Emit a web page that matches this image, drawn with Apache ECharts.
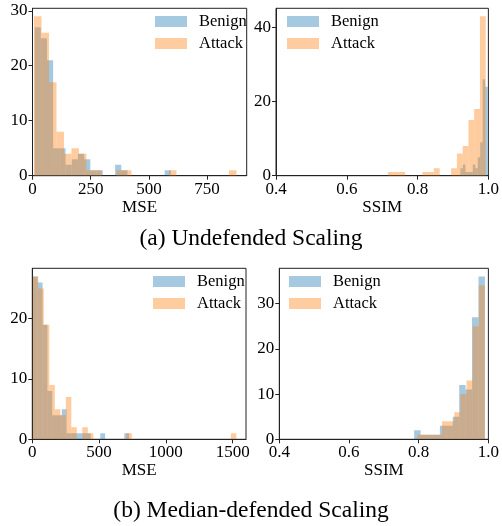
<!DOCTYPE html>
<html><head><meta charset="utf-8">
<script src="https://cdn.jsdelivr.net/npm/echarts@6/dist/echarts.min.js"></script>
<style>html,body{margin:0;padding:0;background:#fff}#c{width:502px;height:526px}</style>
</head><body><div id="c"></div>
<script>
// ---------- Data (histogram bin start, bin width, counts) ----------
// (a) Undefended Scaling - MSE
const aMseBenignStart = 9, aMseBenignWidth = 26.6;
const aMseBenignCounts = [27,25,21,5,5,2,3,4,3,1,1,0,0,2,1,0,0,0,0,0,0,1];
const aMseAttackStart = 6.4, aMseAttackWidth = 32.2;
const aMseAttackCounts = [29,26,17,8,4,5,4,1,1,0,0,1,1,0,0,0,0,0,1,0,0,0,0,0,0,0,1];
// (a) Undefended Scaling - SSIM
const aSsimBenignStart = 0.921, aSsimBenignWidth = 0.007;
const aSsimBenignCounts = [2,3,1,1,1,3,2,5,9,26,24];
const aSsimAttackStart = 0.716, aSsimAttackWidth = 0.01626;
const aSsimAttackCounts = [1,1,1,0,0,0,1,1,2,0,0,2,6,8,15,18,43];
// (b) Median-defended Scaling - MSE
const bMseBenignStart = 5, bMseBenignWidth = 36;
const bMseBenignCounts = [27,26,19,8,4,4,5,1,1,1,1,1,0,0,1,0,0,0,0,1];
const bMseAttackStart = 3.7, bMseAttackWidth = 41.2;
const bMseAttackCounts = [27,25,19,9,5,4,7,2,0,2,1,0,0,0,0,0,0,1,0,0,0,0,0,0,0,0,0,0,0,0,0,0,0,0,0,0,1];
// (b) Median-defended Scaling - SSIM
const bSsimBenignStart = 0.787, bSsimBenignWidth = 0.01846;
const bSsimBenignCounts = [2,1,1,1,3,3,5,12,11,27,36];
const bSsimAttackStart = 0.7963, bSsimAttackWidth = 0.01762;
const bSsimAttackCounts = [1,1,1,1,4,4,6,10,13,25,34];

// Tick labels
const mseTicksA = [0,250,500,750];
const mseTicksB = [0,500,1000,1500];
const ssimTicks = [0.4,0.6,0.8,1.0];
const yTicksAMse = [0,10,20,30];
const yTicksASsim = [0,20,40];
const yTicksBMse = [0,10,20];
const yTicksBSsim = [0,10,20,30];

const seriesNames = ['Benign','Attack'];
const captions = ['(a) Undefended Scaling','(b) Median-defended Scaling'];

// ---------- Helpers ----------
function hist(start, width, counts){
  const out = [];
  counts.forEach((c,i)=>{ if(c>0) out.push([start+i*width, start+(i+1)*width, c]); });
  return out;
}
const BLUE = 'rgba(31,119,180,0.4)';
const ORANGE = 'rgba(255,127,14,0.4)';
const FONT = 'Liberation Serif';

function renderBar(params, api){
  const p0 = api.coord([api.value(0), 0]);
  const p1 = api.coord([api.value(1), api.value(2)]);
  return {type:'rect', shape:{x:p0[0], y:p1[1], width:p1[0]-p0[0], height:p0[1]-p1[1]},
          style:{fill: api.visual('color')}};
}

const grids = [
  {left:32.5, top:8.3, width:214.2, height:167.4},
  {left:276, top:8.3, width:215, height:167.4},
  {left:32.3, top:268.3, width:213.7, height:171},
  {left:279.3, top:268.3, width:211.4, height:171}
].map(g=>Object.assign(g,{show:true, borderColor:'#222', borderWidth:1, backgroundColor:'transparent'}));

function xAx(i, min, max, ticks, name, fmt){
  return {gridIndex:i, type:'value', min, max, name, nameLocation:'middle', nameGap:23,
    nameTextStyle:{fontFamily:FONT, fontSize:17, color:'#000'},
    axisLine:{show:true, onZero:false, lineStyle:{color:'#222', width:1}},
    axisTick:{show:true, inside:false, length:4, customValues:ticks, lineStyle:{color:'#222'}},
    axisLabel:{customValues:ticks, fontFamily:FONT, fontSize:17, color:'#000', margin:5,
      formatter: fmt || (v=>String(v))},
    splitLine:{show:false}};
}
function yAx(i, max, ticks){
  return {gridIndex:i, type:'value', min:0, max,
    axisLine:{show:true, onZero:false, lineStyle:{color:'#222', width:1}},
    axisTick:{show:true, inside:false, length:4, customValues:ticks, lineStyle:{color:'#222'}},
    axisLabel:{customValues:ticks, fontFamily:FONT, fontSize:17, color:'#000', margin:5},
    splitLine:{show:false}};
}
const ssimFmt = v=>v.toFixed(1);

function ser(name, color, idx, data){
  return {name, type:'custom', xAxisIndex:idx, yAxisIndex:idx, color, itemStyle:{color},
          renderItem:renderBar, data, clip:true, silent:true};
}

function leg(left, top){
  return {left, top, orient:'vertical', icon:'rect', itemWidth:32, itemHeight:11, itemGap:5,
    data:seriesNames, selectedMode:false,
    textStyle:{fontFamily:FONT, fontSize:16.5, color:'#000', padding:[0,0,0,7]}};
}

const option = {
  animation:false,
  grid: grids,
  xAxis: [
    xAx(0, 0, 920, mseTicksA, 'MSE'),
    xAx(1, 0.4, 1.0, ssimTicks, 'SSIM', ssimFmt),
    xAx(2, 0, 1600, mseTicksB, 'MSE'),
    xAx(3, 0.4, 1.0, ssimTicks, 'SSIM', ssimFmt)
  ],
  yAxis: [
    yAx(0, 30.45, yTicksAMse),
    yAx(1, 45.15, yTicksASsim),
    yAx(2, 28.35, yTicksBMse),
    yAx(3, 37.8, yTicksBSsim)
  ],
  legend: [leg(150, 8), leg(282, 8), leg(148, 268), leg(284, 268)],
  series: [
    ser(seriesNames[0], BLUE, 0, hist(aMseBenignStart, aMseBenignWidth, aMseBenignCounts)),
    ser(seriesNames[1], ORANGE, 0, hist(aMseAttackStart, aMseAttackWidth, aMseAttackCounts)),
    ser(seriesNames[0], BLUE, 1, hist(aSsimBenignStart, aSsimBenignWidth, aSsimBenignCounts)),
    ser(seriesNames[1], ORANGE, 1, hist(aSsimAttackStart, aSsimAttackWidth, aSsimAttackCounts)),
    ser(seriesNames[0], BLUE, 2, hist(bMseBenignStart, bMseBenignWidth, bMseBenignCounts)),
    ser(seriesNames[1], ORANGE, 2, hist(bMseAttackStart, bMseAttackWidth, bMseAttackCounts)),
    ser(seriesNames[0], BLUE, 3, hist(bSsimBenignStart, bSsimBenignWidth, bSsimBenignCounts)),
    ser(seriesNames[1], ORANGE, 3, hist(bSsimAttackStart, bSsimAttackWidth, bSsimAttackCounts))
  ],
  graphic: [
    {type:'text', left:'center', top:227, style:{text:captions[0], font:'23.5px "Liberation Serif"', fill:'#000'}},
    {type:'text', left:'center', top:499, style:{text:captions[1], font:'23.5px "Liberation Serif"', fill:'#000'}}
  ]
};
const chart = echarts.init(document.getElementById('c'), null, {renderer:'canvas'});
chart.setOption(option);
</script></body></html>
